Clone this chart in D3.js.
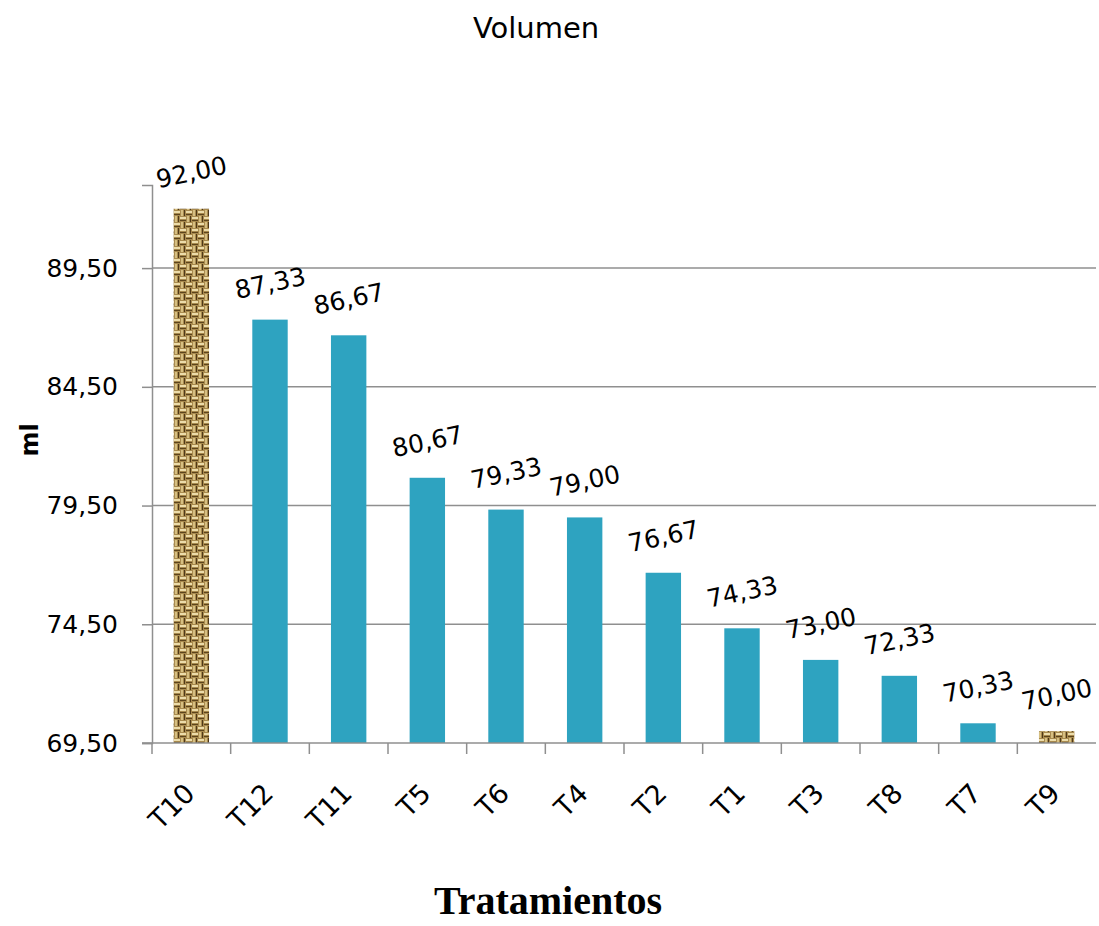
<!DOCTYPE html>
<html>
<head>
<meta charset="utf-8">
<script src="https://cdn.jsdelivr.net/npm/d3@7"></script>
<style>
  body { margin: 0; background: #fff; }
  svg text { font-family: "DejaVu Sans", Verdana, sans-serif; }
</style>
</head>
<body>
<svg id="chart"></svg>
<script>
// data
const categories = ["T10", "T12", "T11", "T5", "T6", "T4", "T2", "T1", "T3", "T8", "T7", "T9"];
const values = [92.00, 87.33, 86.67, 80.67, 79.33, 79.00, 76.67, 74.33, 73.00, 72.33, 70.33, 70.00];
const textured = ["T10", "T9"];
const yTicks = [69.5, 74.5, 79.5, 84.5, 89.5];

const W = 1099, H = 926;
const margin = { left: 152, right: 3, top: 185, bottom: 183 };

const svg = d3.select("#chart")
  .attr("width", W)
  .attr("height", H);

// burlap-ish pattern for the highlighted bars
const defs = svg.append("defs");
const pat = defs.append("pattern")
  .attr("id", "burlap")
  .attr("patternUnits", "userSpaceOnUse")
  .attr("width", 12)
  .attr("height", 12);
pat.append("rect").attr("width", 12).attr("height", 12).attr("fill", "#a88a4e");
// horizontal strands
pat.append("rect").attr("x", 0).attr("y", 1).attr("width", 6).attr("height", 2).attr("fill", "#ecdcaa");
pat.append("rect").attr("x", 6).attr("y", 7).attr("width", 6).attr("height", 2).attr("fill", "#ecdcaa");
pat.append("rect").attr("x", 0).attr("y", 4).attr("width", 6).attr("height", 1).attr("fill", "#5c441c");
pat.append("rect").attr("x", 6).attr("y", 10).attr("width", 6).attr("height", 1).attr("fill", "#5c441c");
// vertical strands
pat.append("rect").attr("x", 7).attr("y", 0).attr("width", 2).attr("height", 6).attr("fill", "#d6bf82");
pat.append("rect").attr("x", 1).attr("y", 6).attr("width", 2).attr("height", 6).attr("fill", "#d6bf82");
pat.append("rect").attr("x", 10).attr("y", 0).attr("width", 1).attr("height", 6).attr("fill", "#4e3818");
pat.append("rect").attr("x", 4).attr("y", 6).attr("width", 1).attr("height", 6).attr("fill", "#4e3818");

const x = d3.scaleBand()
  .domain(categories)
  .range([margin.left, W - margin.right])
  .paddingInner(0.55)
  .paddingOuter(0.275);

const y = d3.scaleLinear()
  .domain([69.5, 93.0])
  .range([H - margin.bottom, margin.top]);

// gridlines
svg.append("g")
  .selectAll("line")
  .data(yTicks.slice(1))
  .enter()
  .append("line")
  .attr("x1", margin.left)
  .attr("x2", W - margin.right)
  .attr("y1", d => y(d))
  .attr("y2", d => y(d))
  .attr("stroke", "#8f8f8f")
  .attr("stroke-width", 1.5);

// bars
svg.append("g")
  .selectAll("rect")
  .data(categories)
  .enter()
  .append("rect")
  .attr("x", d => x(d))
  .attr("width", x.bandwidth())
  .attr("y", (d, i) => y(values[i]))
  .attr("height", (d, i) => y(69.5) - y(values[i]))
  .attr("fill", d => textured.includes(d) ? "url(#burlap)" : "#2ea3c0");

// y axis
const yAxis = svg.append("g")
  .attr("transform", `translate(${margin.left},0)`)
  .call(d3.axisLeft(y)
    .tickValues(yTicks)
    .tickSize(10)
    .tickPadding(24)
    .tickFormat(d => d3.format(".2f")(d).replace(".", ",")));
yAxis.select(".domain").attr("stroke", "#8f8f8f").attr("stroke-width", 1.5);
yAxis.selectAll(".tick line").attr("stroke", "#8f8f8f").attr("stroke-width", 1.5);
yAxis.selectAll(".tick text")
  .attr("font-size", 25)
  .attr("font-family", "DejaVu Sans")
  .attr("fill", "#000");

// x axis
const xEdges = svg.append("g")
  .attr("transform", `translate(0,${y(69.5)})`);
xEdges.append("line")
  .attr("x1", margin.left - 10)
  .attr("x2", W - margin.right)
  .attr("stroke", "#8f8f8f")
  .attr("stroke-width", 1.5);
const step = x.step();
xEdges.selectAll(".xt")
  .data(d3.range(categories.length))
  .enter()
  .append("line")
  .attr("class", "xt")
  .attr("x1", i => margin.left + i * step)
  .attr("x2", i => margin.left + i * step)
  .attr("y1", 0)
  .attr("y2", 11)
  .attr("stroke", "#8f8f8f")
  .attr("stroke-width", 1.5);

// category labels, rotated
svg.append("g")
  .selectAll("text")
  .data(categories)
  .enter()
  .append("text")
  .attr("text-anchor", "end")
  .attr("font-size", 27)
  .attr("transform", d => `translate(${x(d) + x.bandwidth() / 2 + 5},${y(69.5) + 52}) rotate(-45)`)
  .text(d => d);

// value labels
svg.append("g")
  .selectAll("text")
  .data(categories)
  .enter()
  .append("text")
  .attr("text-anchor", "middle")
  .attr("font-size", 25)
  .attr("transform", (d, i) => `translate(${x(d) + x.bandwidth() / 2 + 2},${y(values[i]) - 28}) rotate(-12)`)
  .text((d, i) => d3.format(".2f")(values[i]).replace(".", ","));

// titles
svg.append("text")
  .attr("x", 536)
  .attr("y", 38)
  .attr("text-anchor", "middle")
  .attr("font-size", 29)
  .text("Volumen");

svg.append("text")
  .attr("text-anchor", "middle")
  .attr("font-size", 24)
  .attr("font-weight", "bold")
  .attr("transform", "translate(38,440) rotate(-90)")
  .text("ml");

svg.append("text")
  .attr("x", 548)
  .attr("y", 914)
  .attr("text-anchor", "middle")
  .attr("font-size", 40)
  .attr("font-weight", "bold")
  .style("font-family", "'Liberation Serif', 'Times New Roman', serif")
  .text("Tratamientos");
</script>
</body>
</html>
